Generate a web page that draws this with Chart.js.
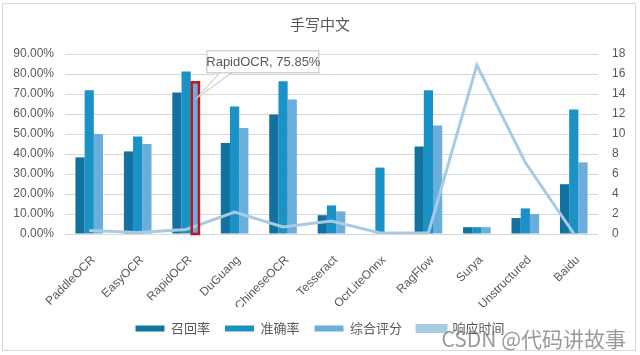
<!DOCTYPE html>
<html><head><meta charset="utf-8">
<script src="https://cdn.jsdelivr.net/npm/chart.js@4.4.1/dist/chart.umd.min.js"></script>
<style>html,body{margin:0;padding:0;background:#fff;overflow:hidden}#wrap{width:640px;height:355px;position:relative}</style>
</head><body><div id="wrap"><canvas id="c" width="640" height="355"></canvas></div>
<script>
const title = '手写中文';
const categories = ['PaddleOCR','EasyOCR','RapidOCR','DuGuang','ChineseOCR','Tesseract','OcrLiteOnnx','RagFlow','Surya','Unstructured','Baidu'];
const seriesNames = ['召回率','准确率','综合评分','响应时间'];
const recall     = [38.3, 41.3, 70.8, 45.5, 59.8,  9.4,  0.0, 43.7, 3.4,  8.0, 24.9];
const accuracy   = [71.9, 48.7, 81.3, 63.8, 76.4, 14.3, 33.2, 71.9, 3.4, 12.8, 62.3];
const composite  = [50.0, 45.0, 75.85,53.0, 67.2, 11.3,  0.0, 54.2, 3.4, 10.0, 35.8];
const responseTime = [0.35, 0.15, 0.45, 2.2, 0.7, 1.3, 0.1, 0.1, 16.9, 7.15, 0.05];
const leftAxis = {min: 0, max: 90, step: 10};
const rightAxis = {min: 0, max: 18, step: 2};
const highlightIndex = 2;
const watermark = 'CSDN @代码讲故事';

const FONT = "'Liberation Sans', 'Noto Sans CJK SC', sans-serif";
const CJK = "'Noto Sans CJK SC', 'Liberation Sans', sans-serif";
const TXT = '#595959';

const extras = {
  id: 'extras',
  beforeDraw(chart) {
    const ctx = chart.ctx;
    ctx.save();
    ctx.strokeStyle = '#d9d9d9';
    ctx.lineWidth = 1;
    ctx.strokeRect(2.5, 3.5, 633, 347);
    ctx.restore();
  },
  afterDatasetsDraw(chart) {
    const ctx = chart.ctx;
    const bar = chart.getDatasetMeta(2).data[highlightIndex];
    const zero = chart.scales.y.getPixelForValue(0);
    ctx.save();
    ctx.strokeStyle = '#c0141e';
    ctx.lineWidth = 2.5;
    ctx.strokeRect(bar.x - bar.width/2 + 1, bar.y, bar.width - 2, zero - bar.y);
    const bx = bar.x + 11, by = bar.y - 32, bw = 112, bh = 22;
    const tipX = bar.x, tipY = bar.y + 17;
    ctx.fillStyle = '#fff';
    ctx.strokeStyle = '#bfbfbf';
    ctx.lineWidth = 1;
    ctx.beginPath();
    ctx.moveTo(bx + 14, by + bh); ctx.lineTo(tipX, tipY); ctx.lineTo(bx + 26, by + bh);
    ctx.closePath(); ctx.fill();
    ctx.beginPath();
    ctx.moveTo(bx + 14, by + bh); ctx.lineTo(tipX, tipY); ctx.lineTo(bx + 26, by + bh);
    ctx.stroke();
    ctx.fillRect(bx, by, bw, bh);
    ctx.strokeRect(bx + 0.5, by + 0.5, bw, bh);
    ctx.fillStyle = TXT;
    ctx.font = '13px ' + FONT;
    ctx.textBaseline = 'middle';
    ctx.textAlign = 'center';
    ctx.fillText(categories[highlightIndex] + ', ' + composite[highlightIndex].toFixed(2) + '%', bx + bw/2 + 1, by + bh/2 + 1);
    ctx.restore();
  },
  afterDraw(chart) {
    const ctx = chart.ctx;
    ctx.save();
    ctx.font = '21px ' + CJK;
    ctx.fillStyle = 'rgba(110,110,110,0.7)';
    ctx.textAlign = 'right';
    ctx.textBaseline = 'alphabetic';
    ctx.fillText(watermark, 626, 347);
    ctx.restore();
  }
};

new Chart(document.getElementById('c'), {
  type: 'bar',
  data: {
    labels: categories,
    datasets: [
      {label: seriesNames[0], data: recall, backgroundColor: '#12729f', order: 2, yAxisID: 'y'},
      {label: seriesNames[1], data: accuracy, backgroundColor: '#1a92c6', order: 2, yAxisID: 'y'},
      {label: seriesNames[2], data: composite, backgroundColor: '#6baedb', order: 2, yAxisID: 'y'},
      {label: seriesNames[3], data: responseTime, type: 'line', borderColor: '#a8cbe3', backgroundColor: '#a8cbe3',
       borderWidth: 3, tension: 0, pointRadius: 0, order: 0, yAxisID: 'y1'}
    ]
  },
  options: {
    responsive: false, animation: false, devicePixelRatio: 1,
    layout: {padding: {left: 0, right: 0, top: 0, bottom: 10}},
    datasets: {bar: {categoryPercentage: 0.57, barPercentage: 1.0}},
    plugins: {
      title: {display: true, text: title, color: TXT, font: {family: CJK, size: 15, weight: 'normal'}, padding: {top: 15, bottom: 21}},
      legend: {position: 'bottom', labels: {color: TXT, font: {family: CJK, size: 13}, boxWidth: 29, boxHeight: 6, padding: 15,
               sort: (a, b) => a.datasetIndex - b.datasetIndex}},
      tooltip: {enabled: false}
    },
    scales: {
      x: {
        grid: {display: false}, border: {display: false},
        ticks: {color: TXT, font: {family: FONT, size: 12}, minRotation: 45, maxRotation: 45, padding: 11, labelOffset: 4},
        afterFit(s) { s.height = 73; }
      },
      y: {
        position: 'left', min: leftAxis.min, max: leftAxis.max,
        grid: {color: '#d9d9d9', drawTicks: false}, border: {display: false},
        ticks: {stepSize: leftAxis.step, color: TXT, font: {family: FONT, size: 12}, padding: 11,
                callback: v => v.toFixed(2) + '%'},
        afterFit(s) { s.width = 65; }
      },
      y1: {
        position: 'right', min: rightAxis.min, max: rightAxis.max,
        grid: {display: false, drawTicks: false}, border: {display: false},
        ticks: {stepSize: rightAxis.step, color: TXT, font: {family: FONT, size: 12}, padding: 14},
        afterFit(s) { s.width = 42; }
      }
    }
  },
  plugins: [extras]
});
</script></body></html>
